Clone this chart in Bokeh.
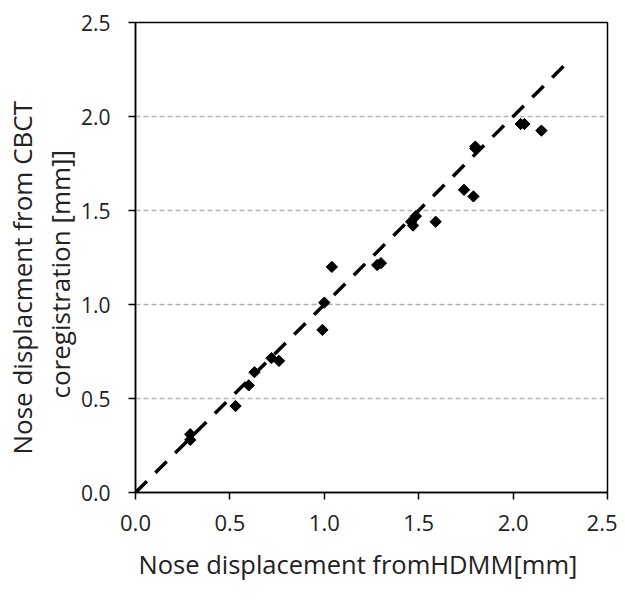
import math
from bokeh.plotting import figure
from bokeh.models import Range1d, FixedTicker, CustomJSTickFormatter, Title
from bokeh.embed import file_html
from bokeh.resources import INLINE

# Data
hdmm = [0.29, 0.29, 0.53, 0.60, 0.63, 0.72, 0.76, 0.99, 1.00, 1.04, 1.28, 1.30,
        1.46, 1.47, 1.485, 1.59, 1.74, 1.79, 1.80, 1.80, 2.04, 2.06, 2.15]
cbct = [0.28, 0.31, 0.46, 0.57, 0.64, 0.715, 0.70, 0.865, 1.01, 1.20, 1.21, 1.22,
        1.44, 1.42, 1.47, 1.44, 1.61, 1.575, 1.83, 1.84, 1.96, 1.96, 1.925]
line_x = [0.0, 2.27]
line_y = [0.0, 2.27]
ticks = [0.0, 0.5, 1.0, 1.5, 2.0, 2.5]
grid_ticks = [0.5, 1.0, 1.5, 2.0]
x_title = "Nose displacement fromHDMM[mm]"
y_title_1 = "Nose displacment  from CBCT"
y_title_2 = "coregistration [mm]]"

FONT = "Open Sans"
TXT = "#222222"

p = figure(width=617, height=592, output_backend="svg", toolbar_location=None,
           x_range=Range1d(0, 2.5), y_range=Range1d(0, 2.5),
           min_border_left=135, min_border_right=10, min_border_top=22, min_border_bottom=98)
p.background_fill_color = "white"
p.border_fill_color = "white"
p.outline_line_color = "black"
p.outline_line_width = 1.5

p.xgrid.visible = False
p.ygrid.ticker = FixedTicker(ticks=grid_ticks)
p.ygrid.grid_line_color = "#b4b4b4"
p.ygrid.grid_line_width = 1.3
p.ygrid.grid_line_dash = "5 3"

fmt = CustomJSTickFormatter(code="return tick.toFixed(1);")
for ax in (p.xaxis[0], p.yaxis[0]):
    ax.ticker = FixedTicker(ticks=ticks)
    ax.formatter = fmt
    ax.minor_tick_line_color = None
    ax.major_tick_in = 0
    ax.major_tick_out = 7
    ax.major_tick_line_width = 1.5
    ax.major_tick_line_color = "black"
    ax.axis_line_color = "black"
    ax.axis_line_width = 1.5
    ax.major_label_text_font = FONT
    ax.major_label_text_color = TXT

p.xaxis.major_label_text_font_size = "22px"
p.xaxis.major_label_standoff = 15
p.yaxis.major_label_text_font_size = "21px"
p.yaxis.major_label_standoff = 18

# axis titles (as side titles so that their position can be tuned)
t_x = Title(text=x_title, align="left", offset=3, standoff=23,
            text_font=FONT, text_font_size="25.5px", text_font_style="normal",
            text_color=TXT)
p.add_layout(t_x, "below")
t_y2 = Title(text=y_title_2, align="left", offset=94, standoff=0,
             text_font=FONT, text_font_size="26px", text_font_style="normal",
             text_color=TXT)
p.add_layout(t_y2, "left")
t_y1 = Title(text=y_title_1, align="left", offset=38, standoff=0,
             text_font=FONT, text_font_size="26px", text_font_style="normal",
             text_color=TXT)
p.add_layout(t_y1, "left")

p.line(line_x, line_y, line_color="black", line_width=3.5, line_dash="16 12")
p.scatter(hdmm, cbct, marker="square", angle=math.pi / 4, size=8,
          fill_color="black", line_color="black")

open("out.html", "w").write(file_html(p, INLINE))
